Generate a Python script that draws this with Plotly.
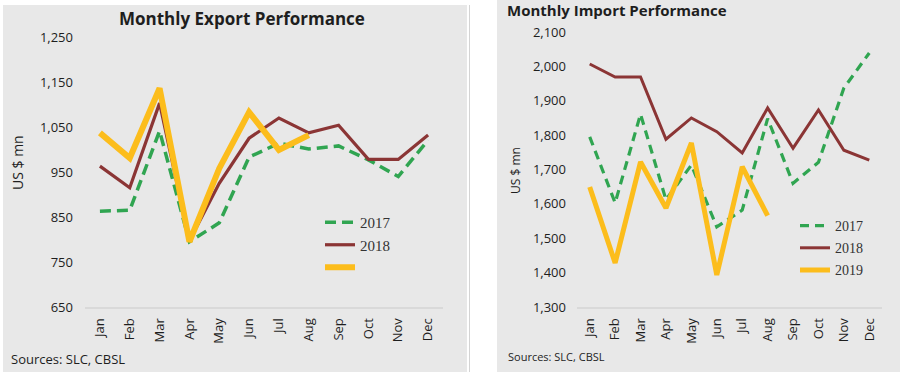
import plotly.graph_objects as go

months = ["Jan", "Feb", "Mar", "Apr", "May", "Jun", "Jul", "Aug", "Sep", "Oct", "Nov", "Dec"]

# Monthly exports (US $ mn)
exp_2017 = [863, 865, 1041, 795, 837, 983, 1014, 1001, 1008, 977, 940, 1021]
exp_2018 = [963, 915, 1103, 797, 925, 1025, 1070, 1037, 1054, 978, 978, 1032]
exp_2019 = [1037, 981, 1136, 795, 958, 1083, 999, 1032]

# Monthly imports (US $ mn)
imp_2017 = [1795, 1603, 1861, 1612, 1713, 1533, 1582, 1848, 1660, 1721, 1937, 2039]
imp_2018 = [2007, 1969, 1969, 1788, 1850, 1810, 1748, 1879, 1762, 1873, 1756, 1727]
imp_2019 = [1649, 1428, 1722, 1588, 1777, 1393, 1708, 1566]

exp_ticks = [650, 750, 850, 950, 1050, 1150, 1250]
imp_ticks = [1300, 1400, 1500, 1600, 1700, 1800, 1900, 2000, 2100]

GREEN = "#30a551"
BROWN = "#8b3535"
YELLOW = "#fcbd1c"
BG = "#e8e8e8"
TXT = "#1e1e1e"
FONT = "Open Sans"
W, H = 900, 374

def px(x):
    return x / W

def py(y):
    return 1 - y / H

fig = go.Figure()

# Export panel
fig.add_trace(go.Scatter(x=months, y=exp_2017, mode="lines", name="2017",
                         line=dict(color=GREEN, width=3.5, dash="11px,6px"),
                         xaxis="x", yaxis="y", legend="legend", legendgroup="e17"))
fig.add_trace(go.Scatter(x=months, y=exp_2018, mode="lines", name="2018",
                         line=dict(color=BROWN, width=3.2),
                         xaxis="x", yaxis="y", legend="legend", legendgroup="e18"))
fig.add_trace(go.Scatter(x=months[:len(exp_2019)], y=exp_2019, mode="lines", name="\u00a0",
                         line=dict(color=YELLOW, width=6),
                         xaxis="x", yaxis="y", legend="legend", legendgroup="e19"))

# Import panel
fig.add_trace(go.Scatter(x=months, y=imp_2017, mode="lines", name="2017",
                         line=dict(color=GREEN, width=3.2, dash="9px,6px"),
                         xaxis="x2", yaxis="y2", legend="legend2", legendgroup="i17"))
fig.add_trace(go.Scatter(x=months, y=imp_2018, mode="lines", name="2018",
                         line=dict(color=BROWN, width=3),
                         xaxis="x2", yaxis="y2", legend="legend2", legendgroup="i18"))
fig.add_trace(go.Scatter(x=months[:len(imp_2019)], y=imp_2019, mode="lines", name="2019",
                         line=dict(color=YELLOW, width=5),
                         xaxis="x2", yaxis="y2", legend="legend2", legendgroup="i19"))

xaxis_common = dict(type="category", categoryorder="array", categoryarray=months,
                    range=[-0.5, 11.5], showgrid=False, zeroline=False,
                    showline=True, linecolor="#d9d9d9", linewidth=2,
                    tickangle=-90, ticks="", ticklabelstandoff=4,
                    tickfont=dict(family=FONT, size=13, color=TXT))
yaxis_common = dict(showgrid=False, zeroline=False, showline=False, ticks="",
                    tickformat=",d",
                    tickfont=dict(family=FONT, size=13, color=TXT))

fig.update_layout(
    width=W, height=H,
    margin=dict(l=0, r=0, t=0, b=0, autoexpand=False),
    paper_bgcolor="white",
    plot_bgcolor="rgba(0,0,0,0)",
    showlegend=True,
    xaxis=dict(domain=[px(85), px(443)], anchor="y", **xaxis_common),
    yaxis=dict(domain=[py(307), py(37)], anchor="x", range=[650, 1250],
               tickvals=exp_ticks, ticklabelstandoff=11, **yaxis_common),
    xaxis2=dict(domain=[px(577), px(882)], anchor="y2", **xaxis_common),
    yaxis2=dict(domain=[py(307), py(32)], anchor="x2", range=[1300, 2100],
                tickvals=imp_ticks, ticklabelstandoff=10, **yaxis_common),
    legend=dict(x=px(320), y=py(206), xanchor="left", yanchor="top",
                bgcolor="rgba(0,0,0,0)", traceorder="grouped", tracegroupgap=0,
                font=dict(family="Liberation Serif", size=15, color="#333333")),
    legend2=dict(x=px(795), y=py(210), xanchor="left", yanchor="top",
                 bgcolor="rgba(0,0,0,0)", traceorder="grouped", tracegroupgap=1,
                 font=dict(family="Liberation Serif", size=14, color="#333333")),
    shapes=[
        dict(type="rect", xref="paper", yref="paper", x0=px(3), x1=px(467),
             y0=py(372), y1=py(5), fillcolor=BG, line=dict(width=0), layer="below"),
        dict(type="line", xref="paper", yref="paper", x0=px(469.5), x1=px(469.5),
             y0=py(372), y1=py(5), line=dict(color="#d4d4d4", width=1), layer="below"),
        dict(type="rect", xref="paper", yref="paper", x0=px(497), x1=px(900),
             y0=py(372), y1=py(0), fillcolor=BG, line=dict(width=0), layer="below"),
    ],
    annotations=[
        dict(text="<b>Monthly Export Performance</b>", xref="paper", yref="paper",
             x=px(242), y=py(19), xanchor="center", yanchor="middle", showarrow=False,
             font=dict(family=FONT, size=17, color=TXT)),
        dict(text="<b>Monthly Import Performance</b>", xref="paper", yref="paper",
             x=px(505), y=py(10), xanchor="left", yanchor="middle", showarrow=False,
             font=dict(family=FONT, size=15, color=TXT)),
        dict(text="US $ mn", xref="paper", yref="paper", x=px(17), y=py(163),
             xanchor="center", yanchor="middle", textangle=-90, showarrow=False,
             font=dict(family=FONT, size=14, color=TXT)),
        dict(text="US $ mn", xref="paper", yref="paper", x=px(515), y=py(171),
             xanchor="center", yanchor="middle", textangle=-90, showarrow=False,
             font=dict(family=FONT, size=12, color=TXT)),
        dict(text="Sources: SLC, CBSL", xref="paper", yref="paper", x=px(9), y=py(359),
             xanchor="left", yanchor="middle", showarrow=False,
             font=dict(family=FONT, size=13, color=TXT)),
        dict(text="Sources: SLC, CBSL", xref="paper", yref="paper", x=px(506), y=py(356),
             xanchor="left", yanchor="middle", showarrow=False,
             font=dict(family=FONT, size=11, color=TXT)),
    ],
)

fig.write_html("out.html", config={"displayModeBar": False},
               post_script="document.body.style.margin='0px';")
